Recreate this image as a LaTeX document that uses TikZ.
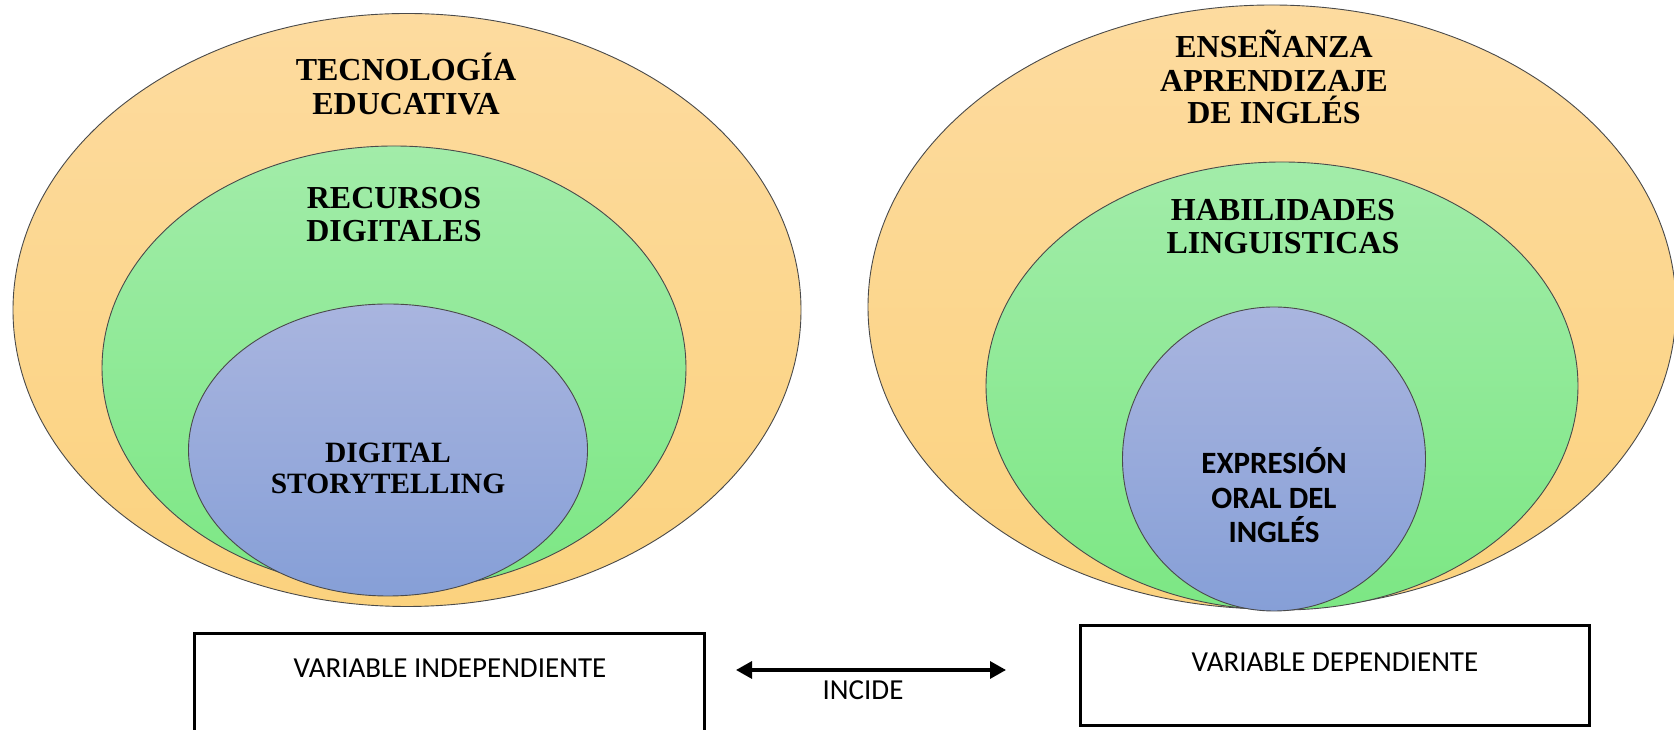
\documentclass[tikz,border=0pt]{standalone}
\usepackage{fontspec}
\usetikzlibrary{shapes.geometric,arrows.meta}
\newfontfamily\titlefont{Liberation Serif}
\newfontfamily\labelfont{Carlito}

\definecolor{orangeTop}{HTML}{FDDB9F}
\definecolor{orangeBot}{HTML}{FBD27E}
\definecolor{greenTop}{HTML}{A2ECA9}
\definecolor{greenBot}{HTML}{7CE784}
\definecolor{blueTop}{HTML}{A9B5DF}
\definecolor{blueBot}{HTML}{869FD7}
\definecolor{rimgray}{HTML}{4A4A4A}

\tikzset{
  ring/.style={ellipse, draw=rimgray, line width=0.9pt, inner sep=0pt},
  outerring/.style={ring, top color=orangeTop, bottom color=orangeBot},
  midring/.style={ring, top color=greenTop, bottom color=greenBot},
  innerring/.style={ring, top color=blueTop, bottom color=blueBot},
  title/.style={anchor=base, inner sep=0pt, font=\titlefont\bfseries\fontsize{32}{34}\selectfont},
  smalltitle/.style={title, font=\titlefont\bfseries\fontsize{29.5}{34}\selectfont},
  coretext/.style={anchor=base, inner sep=0pt, font=\labelfont\bfseries\fontsize{31}{34}\selectfont},
  boxtext/.style={anchor=base, inner sep=0pt, font=\labelfont\fontsize{29}{34}\selectfont},
  varbox/.style={draw=black, line width=3pt},
  link/.style={line width=3.2pt, {Triangle[length=16pt,width=17pt]}-{Triangle[length=16pt,width=17pt]}}
}

\begin{document}
\begin{tikzpicture}[x=1pt,y=1pt]
\useasboundingbox (0,0) rectangle (1674,730);

% left group: educational technology
\node[outerring, minimum width=788, minimum height=593] (outL) at (407,420) {};
\node[midring, minimum width=584, minimum height=444] (midL) at (394,362) {};
\node[innerring, minimum width=399, minimum height=292] (inL) at (388,280) {};

\node[title] (tA1) at (406,730-81) {TECNOLOGÍA};
\node[title] (tA2) at (406,730-115) {EDUCATIVA};
\node[title] (tB1) at (394,730-209) {RECURSOS};
\node[title] (tB2) at (394,730-242) {DIGITALES};
\node[smalltitle] (tC1) at (388,730-463) {DIGITAL};
\node[smalltitle] (tC2) at (388,730-494) {STORYTELLING};

% right group: English teaching and learning
\node[outerring, minimum width=808, minimum height=604] (outR) at (1272,423) {};
\node[midring, minimum width=592, minimum height=448] (midR) at (1282,344) {};
\node[innerring, minimum width=303, minimum height=304] (inR) at (1274,271) {};

\node[title] (tD1) at (1274,730-58) {ENSEÑANZA};
\node[title] (tD2) at (1274,730-92) {APRENDIZAJE};
\node[title] (tD3) at (1274,730-124) {DE INGLÉS};
\node[title] (tE1) at (1283,730-221) {HABILIDADES};
\node[title] (tE2) at (1283,730-254) {LINGUISTICAS};
\node[coretext] (tF1) at (1274,730-474) {EXPRESIÓN};
\node[coretext] (tF2) at (1274,730-509) {ORAL DEL};
\node[coretext] (tF3) at (1274,730-543) {INGLÉS};

% variable boxes
\draw[varbox] (194,730-634) rectangle (704,-10);
\node[boxtext] (vInd) at (450,730-678) {VARIABLE INDEPENDIENTE};
\draw[varbox] (1080,730-626) rectangle (1589,730-726);
\node[boxtext] (vDep) at (1335,730-672) {VARIABLE DEPENDIENTE};

% relation between the two variables
\coordinate (linkL) at (736,730-670);
\coordinate (linkR) at (1006,730-670);
\draw[link] (linkL) -- (linkR);
\node[boxtext] (incide) at (863,730-700) {INCIDE};
\end{tikzpicture}
\end{document}
